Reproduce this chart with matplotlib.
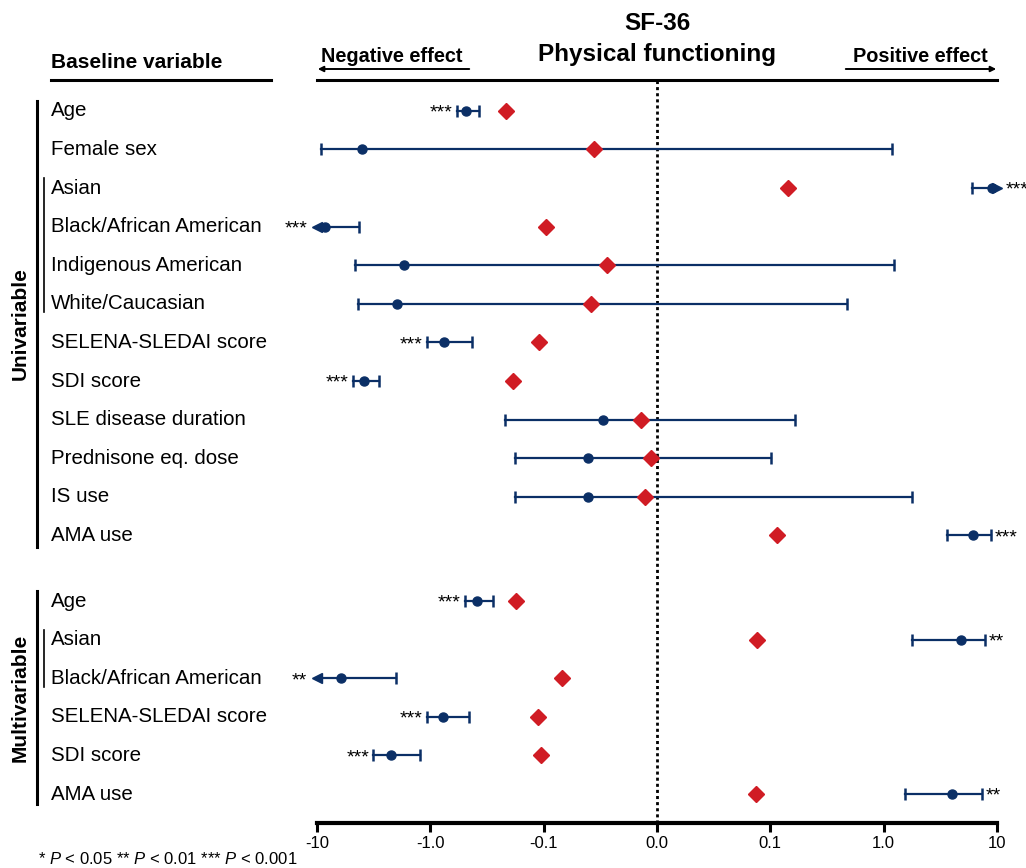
import matplotlib
matplotlib.use('Agg')
import matplotlib.pyplot as plt
import matplotlib.transforms as mtransforms
import numpy as np

plt.rcParams['font.family'] = ['Liberation Sans', 'DejaVu Sans']
plt.rcParams['mathtext.fontset'] = 'custom'
plt.rcParams['mathtext.it'] = 'Liberation Sans:italic'
plt.rcParams['mathtext.rm'] = 'Liberation Sans'

# ---- data ----
uni_labels = ['Age', 'Female sex', 'Asian', 'Black/African American', 'Indigenous American',
              'White/Caucasian', 'SELENA-SLEDAI score', 'SDI score', 'SLE disease duration',
              'Prednisone eq. dose', 'IS use', 'AMA use']
uni_est = [-0.48, -4.0, 9.0, -8.5, -1.70, -1.96, -0.755, -3.84, -0.048, -0.061, -0.061, 6.1]
uni_lo = [-0.58, -9.2, 6.0, None, -4.6, -4.33, -1.07, -4.8, -0.219, -0.179, -0.179, 3.6]
uni_hi = [-0.372, 1.18, None, -4.25, 1.23, 0.473, -0.428, -2.83, 0.165, 0.101, 1.77, 8.8]
uni_mid = [-0.215, -0.056, 0.143, -0.098, -0.044, -0.058, -0.11, -0.186, -0.014, -0.005, -0.011, 0.114]
uni_sig = ['***', '', '***', '***', '', '', '***', '***', '', '', '', '***']

multi_labels = ['Age', 'Asian', 'Black/African American', 'SELENA-SLEDAI score', 'SDI score', 'AMA use']
multi_est = [-0.387, 4.8, -6.2, -0.77, -2.22, 4.0]
multi_lo = [-0.493, 1.77, None, -1.07, -3.19, 1.54]
multi_hi = [-0.28, 7.8, -2.0, -0.455, -1.23, 7.35]
multi_mid = [-0.175, 0.088, -0.084, -0.112, -0.105, 0.087]
multi_sig = ['***', '**', '**', '***', '***', '**']

ticks = [-10, -1, -0.1, 0, 0.1, 1, 10]
tick_labels = ['-10', '-1.0', '-0.1', '0.0', '0.1', '1.0', '10']

BLUE = '#0b2f66'
RED = '#d01c24'
W, H = 1026, 868

fig = plt.figure(figsize=(W / 100, H / 100), dpi=100)
ax = fig.add_axes([317 / W, 45 / H, 680 / W, 743 / H])

gap = 1.7
uni_y = np.arange(len(uni_labels), dtype=float)
multi_y = uni_y[-1] + gap + np.arange(len(multi_labels), dtype=float)

labels = uni_labels + multi_labels
ys = np.concatenate([uni_y, multi_y])
est = uni_est + multi_est
lo = uni_lo + multi_lo
hi = uni_hi + multi_hi
mid = uni_mid + multi_mid
sig = uni_sig + multi_sig

ax.set_xscale('symlog', linthresh=0.1, linscale=0.9)
xmin, xmax = -10, 10
ax.set_xlim(xmin, xmax)
ax.set_ylim(multi_y[-1] + 0.75, -0.8)

ax.axvline(0, color='black', ls=(0, (1.1, 1.1)), lw=2, zorder=1)

STAR_FS = 14
STAR_DY = -0.35 * STAR_FS
for y, e, l, h, m, s in zip(ys, est, lo, hi, mid, sig):
    left = xmin if l is None else l
    right = xmax if h is None else h
    ax.plot([left, right], [y, y], color=BLUE, lw=1.6, zorder=2, clip_on=False)
    if l is not None:
        ax.plot([l], [y], marker='|', ms=8.5, mew=1.8, color=BLUE, zorder=2)
    else:
        ax.plot([xmin], [y], marker='<', ms=7, color=BLUE, zorder=2, clip_on=False)
    if h is not None:
        ax.plot([h], [y], marker='|', ms=8.5, mew=1.8, color=BLUE, zorder=2)
    else:
        ax.plot([xmax], [y], marker='>', ms=7, color=BLUE, zorder=2, clip_on=False)
    ax.plot([e], [y], marker='o', ms=6.5, color=BLUE, zorder=3, clip_on=False)
    ax.plot([m], [y], marker='D', ms=8.5, color=RED, zorder=4)
    if s:
        if e < 0:
            ax.annotate(s, (left, y), xytext=(-7 if l is None else -3, STAR_DY),
                        textcoords='offset points', ha='right', va='baseline',
                        fontsize=STAR_FS, annotation_clip=False)
        else:
            ax.annotate(s, (right, y), xytext=(6 if h is None else 3, STAR_DY),
                        textcoords='offset points', ha='left', va='baseline',
                        fontsize=STAR_FS, annotation_clip=False)

# axes styling
for side in ['left', 'right']:
    ax.spines[side].set_visible(False)
ax.spines['top'].set_linewidth(2.2)
ax.spines['bottom'].set_linewidth(3)
ax.set_yticks([])
ax.set_xticks(ticks)
ax.set_xticklabels(tick_labels, fontsize=12)
ax.xaxis.set_minor_locator(matplotlib.ticker.NullLocator())
ax.tick_params(axis='x', length=6.5, width=2.2, pad=3)

# row labels and group bars
trans = mtransforms.blended_transform_factory(fig.transFigure, ax.transData)
for y, lab in zip(ys, labels):
    fig.text(51 / W, y, lab, transform=trans, ha='left', va='center', fontsize=14.8)

def vbar(xpx, y0, y1, lw):
    ax.plot([xpx / W, xpx / W], [y0, y1], transform=trans, color='black', lw=lw, clip_on=False)

vbar(37, uni_y[0] - 0.25, uni_y[-1] + 0.3, 2.2)
vbar(44, uni_y[2] - 0.27, uni_y[5] + 0.22, 1.2)
vbar(37, multi_y[0] - 0.25, multi_y[-1] + 0.25, 2.2)
vbar(44, multi_y[1] - 0.25, multi_y[2] + 0.22, 1.2)
fig.text(20 / W, uni_y.mean(), 'Univariable', transform=trans, rotation=90,
         ha='center', va='center', fontsize=15, fontweight='bold')
fig.text(20 / W, multi_y.mean(), 'Multivariable', transform=trans, rotation=90,
         ha='center', va='center', fontsize=15, fontweight='bold')

# header
def px(x, y):
    return x / W, 1 - y / H

fig.text(*px(51, 62), 'Baseline variable', ha='left', va='center', fontsize=15, fontweight='bold')
fig.add_artist(plt.Line2D([51 / W, 271 / W], [1 - 80 / H] * 2, color='black', lw=2.2))
fig.text(*px(657, 24), 'SF-36', ha='center', va='center', fontsize=17.5, fontweight='bold')
fig.text(*px(657, 54), 'Physical functioning', ha='center', va='center', fontsize=17.5, fontweight='bold')
fig.text(*px(321, 56), 'Negative effect', ha='left', va='center', fontsize=14.3, fontweight='bold')
fig.text(*px(988, 56), 'Positive effect', ha='right', va='center', fontsize=14.3, fontweight='bold')
fig.add_artist(matplotlib.patches.FancyArrowPatch(px(472, 69), px(315, 69), arrowstyle='-|>',
               mutation_scale=8, lw=1.4, color='black', transform=fig.transFigure))
fig.add_artist(matplotlib.patches.FancyArrowPatch(px(843, 69), px(999, 69), arrowstyle='-|>',
               mutation_scale=8, lw=1.4, color='black', transform=fig.transFigure))

fig.text(*px(38, 859), r'* $\it{P}$ < 0.05 ** $\it{P}$ < 0.01 *** $\it{P}$ < 0.001',
         ha='left', va='center', fontsize=12)

fig.savefig('out.png', dpi=100)
